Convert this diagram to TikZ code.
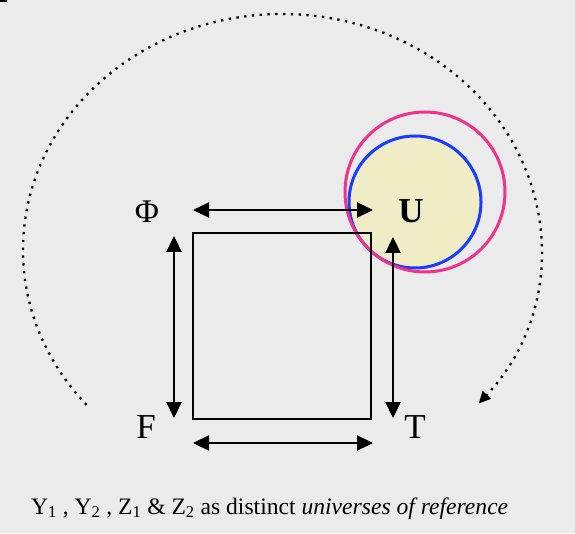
\documentclass[tikz,border=0pt]{standalone}
\usepackage{fontspec}
\setmainfont{Liberation Serif}
\usetikzlibrary{arrows.meta,calc}
\definecolor{bg}{RGB}{235,235,235}
\definecolor{ringpink}{RGB}{240,50,140}
\definecolor{ringblue}{RGB}{25,60,255}
\definecolor{ufill}{RGB}{240,236,198}
\tikzset{
  dbl/.style={line width=2.3pt,{Triangle[length=16pt,width=15pt]}-{Triangle[length=16pt,width=15pt]}},
  lbl/.style={font=\fontsize{35}{37}\selectfont, inner sep=0pt},
  dots/.style={line width=2.3pt, dash pattern=on 2.3pt off 5.5pt, -{Triangle[length=12pt,width=11pt]}}
}
\begin{document}
\begin{tikzpicture}[x=1pt,y=1pt]
\fill[bg] (0,0) rectangle (575,533);
\useasboundingbox (0,0) rectangle (575,533);
\fill[black] (0,531) rectangle (7,533);
% circles
\fill[ufill] (415,331) circle (66);
\draw[ringblue, line width=3pt] (415,331) circle (66);
\draw[ringpink, line width=3pt] (425,341) circle (80);
% square
\draw[line width=2.3pt] (193,114) rectangle (371,300);
% labels
\node[lbl, font=\fontsize{33}{35}\selectfont] (phi) at (147,321) {Φ};
\node[lbl, font=\fontsize{35}{37}\selectfont\bfseries] (u) at (411,322) {U};
\node[lbl] (f) at (146,106) {F};
\node[lbl] (t) at (415,106) {T};
% arrow end points
\coordinate (ta1) at (193,323); \coordinate (ta2) at (373,323);
\coordinate (ba1) at (193,90);  \coordinate (ba2) at (373,90);
\coordinate (la1) at (174,297); \coordinate (la2) at (174,115);
\coordinate (ra1) at (393,296); \coordinate (ra2) at (393,115);
\draw[dbl] (ta1) -- (ta2);
\draw[dbl] (ba1) -- (ba2);
\draw[dbl] (la1) -- (la2);
\draw[dbl] (ra1) -- (ra2);
% dotted arc
\coordinate (arcstart) at ($(282,283)+(221:259 and 236)$);
\draw[dots] (arcstart) arc[start angle=221, end angle=-40.6, x radius=259, y radius=236];
% caption
\node[anchor=base west, inner sep=0pt, font=\fontsize{23.6}{26}\selectfont] (cap) at (31,19)
 {Y\textsubscript{1} , Y\textsubscript{2} , Z\textsubscript{1} \& Z\textsubscript{2} as distinct \textit{universes of reference}};
\end{tikzpicture}
\end{document}
